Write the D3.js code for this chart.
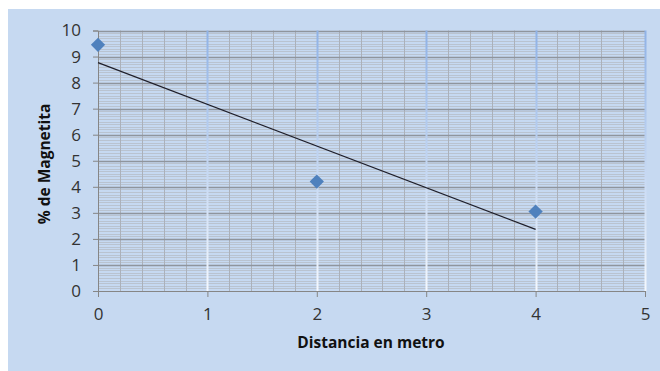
<!DOCTYPE html>
<html><head><meta charset="utf-8">
<script src="https://cdn.jsdelivr.net/npm/d3@7"></script>
<style>body{margin:0;background:#fff}svg{display:block}</style>
</head><body>
<svg id="c" width="660" height="371"></svg>
<script>
const distances = [0, 2, 4];
const magnetita = [9.45, 4.2, 3.05];
const xTicks = [0, 1, 2, 3, 4, 5];
const yTicks = [0, 1, 2, 3, 4, 5, 6, 7, 8, 9, 10];
const xTitle = "Distancia en metro";
const yTitle = "% de Magnetita";

const svg = d3.select("#c");
const font = "'Open Sans', sans-serif";
svg.append("rect").attr("x", 8).attr("y", 9).attr("width", 652).attr("height", 362).attr("fill", "#c6d9f1");

const x = d3.scaleLinear().domain([0, 5]).range([98, 645]);
const y = d3.scaleLinear().domain([0, 10]).range([291, 30.5]);

const defs = svg.append("defs");
const grad = defs.append("linearGradient").attr("id", "vg").attr("gradientUnits", "userSpaceOnUse")
  .attr("x1", 0).attr("y1", y(10)).attr("x2", 0).attr("y2", y(0));
grad.append("stop").attr("offset", "0").attr("stop-color", "#8fb2e6");
grad.append("stop").attr("offset", "1").attr("stop-color", "#f4f8fd");

const g = svg.append("g");
const yMinor = d3.range(0, 100).map(i => i / 10).filter(v => Math.abs(v - Math.round(v)) > 1e-6);
g.selectAll(".hm").data(yMinor).join("line")
  .attr("x1", x(0)).attr("x2", x(5))
  .attr("y1", d => Math.round(y(d)) + 0.5).attr("y2", d => Math.round(y(d)) + 0.5)
  .attr("stroke", "#b9c3d0").attr("stroke-width", 1);
const xMinor = d3.range(1, 25).map(i => i / 5).filter(v => Math.abs(v - Math.round(v)) > 1e-6);
g.selectAll(".vm").data(xMinor).join("line")
  .attr("x1", d => Math.round(x(d)) + 0.5).attr("x2", d => Math.round(x(d)) + 0.5)
  .attr("y1", y(0)).attr("y2", y(10))
  .attr("stroke", "#abb1ba").attr("stroke-width", 1);
g.selectAll(".hM").data(yTicks.slice(1)).join("line")
  .attr("x1", x(0)).attr("x2", x(5))
  .attr("y1", d => Math.round(y(d)) + 0.5).attr("y2", d => Math.round(y(d)) + 0.5)
  .attr("stroke", "#8f959d").attr("stroke-width", 1.5);
g.selectAll(".vM").data(xTicks.slice(1)).join("line")
  .attr("x1", d => Math.round(x(d)) + 0.5).attr("x2", d => Math.round(x(d)) + 0.5)
  .attr("y1", y(0)).attr("y2", y(10))
  .attr("stroke", "url(#vg)").attr("stroke-width", 2);

const yAxis = d3.axisLeft(y).tickValues(yTicks).tickSize(5).tickPadding(12).tickFormat(d3.format("d"));
const ya = svg.append("g").attr("transform", `translate(${x(0)},0)`).call(yAxis);
const xAxis = d3.axisBottom(x).tickValues(xTicks).tickSize(6).tickPadding(11).tickFormat(d3.format("d"));
const xa = svg.append("g").attr("transform", `translate(0,${y(0)})`).call(xAxis);
[ya, xa].forEach(a => {
  a.attr("font-size", null).attr("font-family", null);
  a.select(".domain").attr("stroke", "#868686").attr("stroke-width", 1);
  a.selectAll(".tick line").attr("stroke", "#868686");
  a.selectAll("text").attr("fill", "#333333").style("font-family", font).style("font-size", "17px");
});

const mx = d3.mean(distances), my = d3.mean(magnetita);
const slope = d3.sum(distances.map((d, i) => (d - mx) * (magnetita[i] - my))) / d3.sum(distances.map(d => (d - mx) ** 2));
const icpt = my - slope * mx;
const ext = d3.extent(distances);
svg.append("line")
  .attr("x1", x(ext[0])).attr("y1", y(icpt + slope * ext[0]))
  .attr("x2", x(ext[1])).attr("y2", y(icpt + slope * ext[1]))
  .attr("stroke", "#1f1f2a").attr("stroke-width", 1.2);

svg.selectAll(".pt").data(distances.map((d, i) => [d, magnetita[i]])).join("path")
  .attr("d", d3.symbol(d3.symbolDiamond2, 130)())
  .attr("transform", d => `translate(${x(d[0])},${y(d[1])})`)
  .attr("fill", "#4f81bd");

svg.append("text").attr("x", 371).attr("y", 348).attr("text-anchor", "middle")
  .style("font-family", font).style("font-size", "15.5px").style("font-weight", "bold").attr("fill", "#111")
  .text(xTitle);
svg.append("text").attr("transform", "translate(50,164) rotate(-90)").attr("text-anchor", "middle")
  .style("font-family", font).style("font-size", "15.5px").style("font-weight", "bold").attr("fill", "#111")
  .text(yTitle);
</script>
</body></html>
